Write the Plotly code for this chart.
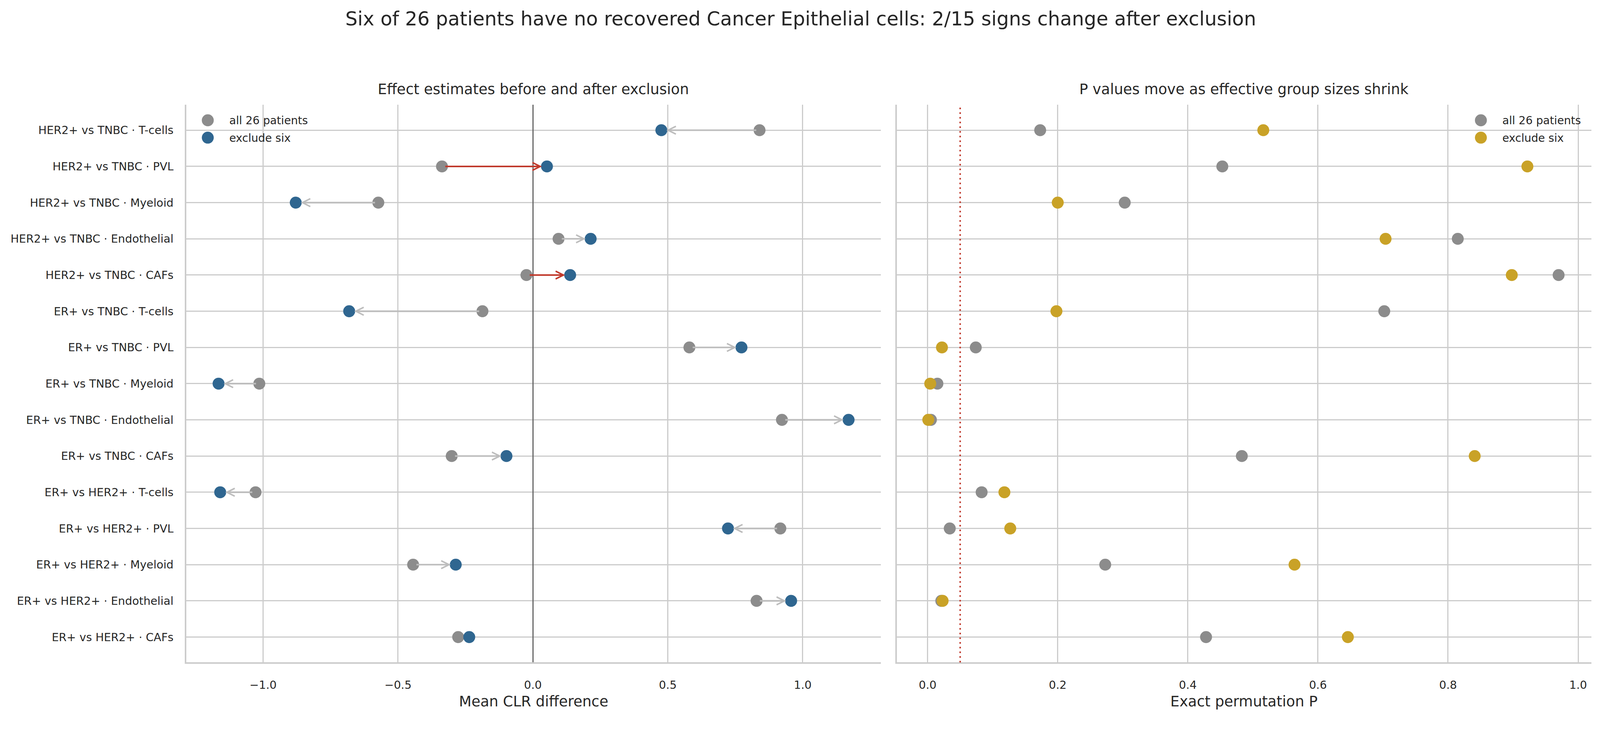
import numpy as np
import plotly.graph_objects as go

# ---- data ----
comparisons = [
    "HER2+ vs TNBC · T-cells", "HER2+ vs TNBC · PVL", "HER2+ vs TNBC · Myeloid",
    "HER2+ vs TNBC · Endothelial", "HER2+ vs TNBC · CAFs",
    "ER+ vs TNBC · T-cells", "ER+ vs TNBC · PVL", "ER+ vs TNBC · Myeloid",
    "ER+ vs TNBC · Endothelial", "ER+ vs TNBC · CAFs",
    "ER+ vs HER2+ · T-cells", "ER+ vs HER2+ · PVL", "ER+ vs HER2+ · Myeloid",
    "ER+ vs HER2+ · Endothelial", "ER+ vs HER2+ · CAFs",
]
clr_all = [0.840, -0.337, -0.573, 0.095, -0.024, -0.187, 0.580, -1.014,
           0.923, -0.301, -1.028, 0.917, -0.444, 0.829, -0.277]
clr_excl = [0.476, 0.052, -0.879, 0.214, 0.138, -0.681, 0.773, -1.165,
            1.170, -0.098, -1.159, 0.723, -0.286, 0.957, -0.236]
p_all = [0.173, 0.453, 0.303, 0.815, 0.970, 0.702, 0.074, 0.015,
         0.005, 0.483, 0.083, 0.034, 0.273, 0.021, 0.428]
p_excl = [0.516, 0.922, 0.200, 0.704, 0.898, 0.198, 0.022, 0.004,
          0.001, 0.841, 0.118, 0.127, 0.564, 0.023, 0.646]
alpha = 0.05

GRAY = "#8c8c8c"
BLUE = "#2f6690"
GOLD = "#c9a227"
RED = "#c0392b"
ARROW_GRAY = "#bdbdbd"
TXT = "#262626"
GRID = "#cccccc"
FONT = "DejaVu Sans"

# the page is photographed slightly zoomed and offset by the body margin,
# so lay things out in reference pixels and map them back
K = 1.0133
OFF = 8
W = round(4155 / K - OFF)
H = round(1871 / K - OFF)


def s(v):
    return v / K


def px(x):
    return (x / K - OFF) / W


def py(y):
    return 1 - (y / K - OFF) / H


MS = s(31)

# reference-pixel layout of the two panels
L_X0, L_X1 = 483.3, 2285.0
R_X0, R_X1 = 2326.7, 4128.0
Y_TOP, Y_BOT = 272.0, 1718.0

fig = go.Figure()

fig.add_trace(go.Scatter(x=clr_all, y=comparisons, mode="markers", name="all 26 patients",
                         marker=dict(size=MS, color=GRAY, line=dict(width=0)),
                         xaxis="x", yaxis="y", showlegend=False))
fig.add_trace(go.Scatter(x=clr_excl, y=comparisons, mode="markers", name="exclude six",
                         marker=dict(size=MS, color=BLUE, line=dict(width=0)),
                         xaxis="x", yaxis="y", showlegend=False))
fig.add_trace(go.Scatter(x=p_all, y=comparisons, mode="markers", name="all 26 patients",
                         marker=dict(size=MS, color=GRAY, line=dict(width=0)),
                         xaxis="x2", yaxis="y2", showlegend=False))
fig.add_trace(go.Scatter(x=p_excl, y=comparisons, mode="markers", name="exclude six",
                         marker=dict(size=MS, color=GOLD, line=dict(width=0)),
                         xaxis="x2", yaxis="y2", showlegend=False))

# arrows from all-patient estimate to the exclusion estimate
annotations = []
for i, (a, b) in enumerate(zip(clr_all, clr_excl)):
    flipped = np.sign(a) != np.sign(b)
    annotations.append(dict(
        x=b, y=i, ax=a, ay=i, xref="x", yref="y", axref="x", ayref="y",
        text="", showarrow=True, arrowhead=5, arrowsize=0.95, arrowwidth=s(4.2),
        arrowcolor=RED if flipped else ARROW_GRAY, standoff=s(13), startstandoff=s(7),
    ))

shapes = [
    # threshold line on the P panel
    dict(type="line", xref="x2", yref="paper", x0=alpha, x1=alpha, y0=py(Y_BOT), y1=py(Y_TOP),
         line=dict(color=RED, width=s(4), dash="4px,8px")),
]

# titles
annotations += [
    dict(text="Six of 26 patients have no recovered Cancer Epithelial cells: 2/15 signs change after exclusion",
         x=px(4155 / 2), y=py(49), xref="paper", yref="paper", showarrow=False,
         xanchor="center", yanchor="middle", font=dict(size=s(50), color=TXT)),
    dict(text="Effect estimates before and after exclusion", x=px((L_X0 + L_X1) / 2), y=py(232),
         xref="paper", yref="paper", showarrow=False, xanchor="center", yanchor="middle",
         font=dict(size=s(37.5), color=TXT)),
    dict(text="P values move as effective group sizes shrink", x=px((R_X0 + R_X1) / 2), y=py(232),
         xref="paper", yref="paper", showarrow=False, xanchor="center", yanchor="middle",
         font=dict(size=s(37.5), color=TXT)),
    dict(text="Mean CLR difference", x=px((L_X0 + L_X1) / 2), y=py(1819),
         xref="paper", yref="paper", showarrow=False, xanchor="center", yanchor="middle",
         font=dict(size=s(37.5), color=TXT)),
    dict(text="Exact permutation P", x=px((R_X0 + R_X1) / 2), y=py(1819),
         xref="paper", yref="paper", showarrow=False, xanchor="center", yanchor="middle",
         font=dict(size=s(37.5), color=TXT)),
]

# legends drawn by hand so the markers keep their full size
legend_rows = [(312, "all 26 patients"), (357, "exclude six")]
r = 31 / 2
for mx, tx, colors in [(539, 593, [GRAY, BLUE]), (3841.5, 3895, [GRAY, GOLD])]:
    for (ly, label), c in zip(legend_rows, colors):
        shapes.append(dict(type="circle", xref="paper", yref="paper",
                           x0=px(mx - r), x1=px(mx + r), y0=py(ly + r), y1=py(ly - r),
                           fillcolor=c, line=dict(width=0)))
        annotations.append(dict(text=label, x=px(tx), y=py(ly + 1), xref="paper", yref="paper",
                                showarrow=False, xanchor="left", yanchor="middle",
                                font=dict(size=s(28.5), color=TXT)))

axis_common = dict(showgrid=True, gridcolor=GRID, gridwidth=s(3.2), showline=True,
                   linecolor=GRID, linewidth=s(4), ticks="", zeroline=False,
                   tickfont=dict(size=s(29), color=TXT, family=FONT))

fig.update_layout(
    width=W, height=H,
    margin=dict(l=0, r=0, t=0, b=0, autoexpand=False),
    paper_bgcolor="white", plot_bgcolor="white",
    font=dict(family=FONT, color=TXT),
    showlegend=False,
    annotations=annotations,
    shapes=shapes,
    xaxis=dict(axis_common, domain=[px(L_X0), px(L_X1)], range=[-1.2846, 1.2896],
               tickvals=[-1.0, -0.5, 0.0, 0.5, 1.0], ticktext=["−1.0", "−0.5", "0.0", "0.5", "1.0"],
               zeroline=True, zerolinecolor="#666666", zerolinewidth=s(3),
               anchor="y", ticklabelstandoff=29),
    yaxis=dict(axis_common, domain=[py(Y_BOT), py(Y_TOP)], type="category",
               categoryarray=comparisons, range=[14.7, -0.7], anchor="x",
               ticklabelstandoff=23),
    xaxis2=dict(axis_common, domain=[px(R_X0), px(R_X1)], range=[-0.0472, 1.0203],
                tickvals=[0.0, 0.2, 0.4, 0.6, 0.8, 1.0], tickformat=".1f",
                anchor="y2", ticklabelstandoff=29),
    yaxis2=dict(axis_common, domain=[py(Y_BOT), py(Y_TOP)], type="category",
                categoryarray=comparisons, range=[14.7, -0.7], anchor="x2",
                showticklabels=False),
)

fig.write_html("out.html")
